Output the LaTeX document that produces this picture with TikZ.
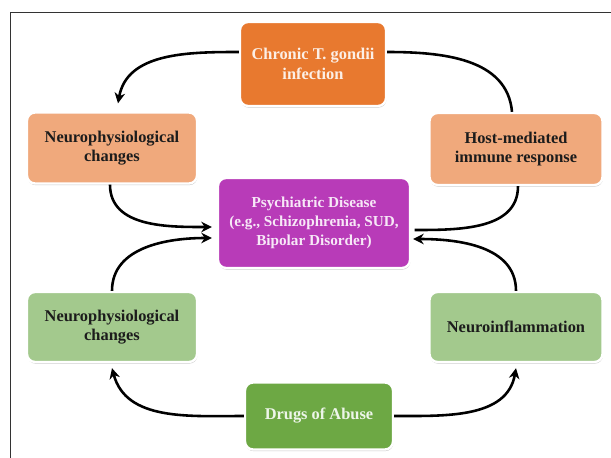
\documentclass[tikz,border=0pt]{standalone}
\usepackage{fontspec}
\setmainfont{Liberation Serif}
\usetikzlibrary{arrows.meta,shadows}
\definecolor{infectorange}{HTML}{E8792F}
\definecolor{paleorange}{HTML}{F0A97C}
\definecolor{diseasepurple}{HTML}{B83BB8}
\definecolor{palegreen}{HTML}{A3C98D}
\definecolor{drugsgreen}{HTML}{6DA844}
\definecolor{darktext}{HTML}{1C1C1C}
\begin{document}
\begin{tikzpicture}[x=0.03cm, y=-0.03cm,
    box/.style={rounded corners=7pt, draw=white, line width=2pt, align=center, inner sep=2pt,
        font=\fontsize{14}{16.5}\selectfont\bfseries, text=darktext,
        drop shadow={shadow xshift=0.4pt, shadow yshift=-1.4pt, opacity=0.35, fill=black!60}},
    link/.style={line width=2.2pt, black},
    tip/.style={link, -{Stealth[length=9pt, width=9pt]}}]
    \useasboundingbox (0,0) rectangle (611,458);
    % --- frame (top and left edge only) ---
    \draw[black!80, line width=0.6pt] (10,458) -- (10,12) -- (611,12);

    % --- T. gondii side ---
    \node[box, fill=infectorange, text=white!88!infectorange, minimum width=4.38cm, minimum height=2.52cm]
        (chronic) at (313,64) {Chronic T. gondii\\infection};
    \node[box, fill=paleorange, minimum width=5.1cm, minimum height=2.13cm]
        (neuroA) at (112,148) {Neurophysiological\\changes};
    \node[box, fill=paleorange, minimum width=5.19cm, minimum height=2.16cm]
        (host) at (516,149) {Host-mediated\\immune response};

    % --- centre ---
    \node[box, fill=diseasepurple, text=white!88!diseasepurple, minimum width=5.76cm, minimum height=2.7cm,
        font=\fontsize{13}{16.5}\selectfont\bfseries]
        (psych) at (314,223) {Psychiatric Disease\\(e.g., Schizophrenia, SUD,\\Bipolar Disorder)};

    % --- drugs side ---
    \node[box, fill=palegreen, minimum width=5.1cm, minimum height=2.1cm]
        (neuroB) at (112,327) {Neurophysiological\\changes};
    \node[box, fill=palegreen, minimum width=5.19cm, minimum height=2.1cm]
        (inflam) at (516,327) {Neuroinflammation};
    \node[box, fill=drugsgreen, text=white!88!drugsgreen, minimum width=4.44cm, minimum height=2.01cm]
        (drugs) at (319,416) {Drugs of Abuse};

    % Upper cycle
    \draw[tip] ([yshift=0.36cm]chronic.west) to[out=180, in=80] ([xshift=0.18cm, yshift=0.24cm]neuroA.north);
    \draw[link] ([yshift=0.36cm]chronic.east) to[out=0, in=95] ([xshift=-0.12cm]host.north);
    \draw[tip] ([xshift=-0.06cm]neuroA.south) to[out=-90, in=180] ([xshift=-0.15cm, yshift=-0.12cm]psych.west);
    \draw[link] ([xshift=0.06cm]host.south) to[out=-90, in=0] ([xshift=0.1cm, yshift=-0.21cm]psych.east);

    % Lower cycle
    \draw[tip] (neuroB.north) to[out=90, in=180] ([xshift=-0.15cm, yshift=-0.45cm]psych.west);
    \draw[tip] (inflam.north) to[out=90, in=0] ([xshift=0.06cm, yshift=-0.48cm]psych.east);
    \draw[tip] (drugs.west) to[out=180, in=-75] ([yshift=-0.15cm]neuroB.south);
    \draw[tip] (drugs.east) to[out=0, in=-100] ([yshift=-0.15cm]inflam.south);
\end{tikzpicture}
\end{document}
